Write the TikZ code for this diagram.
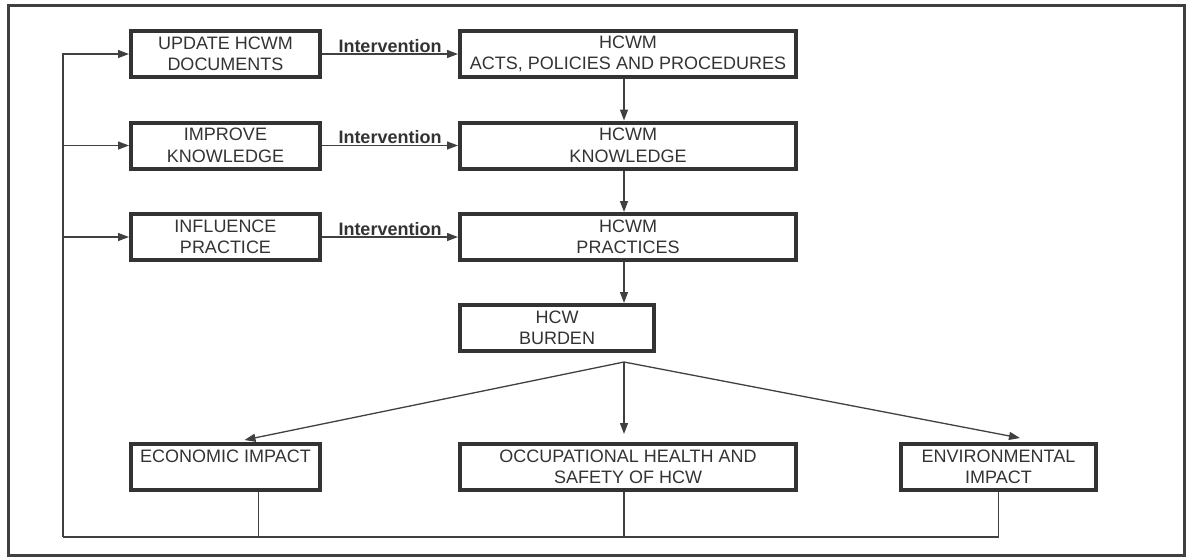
\documentclass[tikz,border=0pt]{standalone}
\usepackage{fontspec}
\setmainfont{Liberation Sans}
\usetikzlibrary{arrows.meta, calc}

\begin{document}
\begin{tikzpicture}[x=1pt, y=-1pt, >={Triangle[length=11pt, width=8pt]},
    box/.style={draw=black!80, line width=4pt, minimum width=189pt, minimum height=46pt,
      inner sep=0pt, align=center, text=black!80, font=\fontsize{18}{21.5}\selectfont},
    widebox/.style={box, minimum width=336pt},
    link/.style={->, draw=black!75, line width=1.3pt},
    wire/.style={draw=black!75, line width=1.1pt}]
    \useasboundingbox (0,0) rectangle (1188,558);
    \draw[black!75, line width=3pt] (8,5) rectangle (1184,555);

    % Interventions
    \node[box] (upd) at (225.5,54) {UPDATE HCWM\\DOCUMENTS};
    \node[box] (imp) at (225.5,145.5) {IMPROVE\\KNOWLEDGE};
    \node[box] (inf) at (225.5,237) {INFLUENCE\\PRACTICE};

    % HCWM chain
    \node[widebox] (acts) at (628,54) {HCWM\\ACTS, POLICIES AND PROCEDURES};
    \node[widebox] (know) at (628,145.5) {HCWM\\KNOWLEDGE};
    \node[widebox] (prac) at (628,237) {HCWM\\PRACTICES};
    \node[box, minimum width=194pt] (burd) at (557,328) {HCW\\BURDEN};

    % Impacts
    \node[box] (econ) at (225.5,467) {ECONOMIC IMPACT\\\mbox{}};
    \node[widebox] (occ) at (628,467) {OCCUPATIONAL HEALTH AND\\SAFETY OF HCW};
    \node[box, minimum width=195pt] (env) at (998.5,467) {ENVIRONMENTAL\\IMPACT};

    \foreach \a/\b in {upd/acts, imp/know, inf/prac}
      \draw[link] (\a) -- (\b) node[midway, above, inner sep=1pt, text=black!80,
        font=\fontsize{18}{20}\selectfont\bfseries] {Intervention};

    \draw[link] ([xshift=-4pt]acts.south) -- ([xshift=-4pt]know.north);
    \draw[link] ([xshift=-4pt]know.south) -- ([xshift=-4pt]prac.north);
    \draw[link] ([xshift=-4pt]prac.south) -- ([xshift=-4pt]prac.south |- burd.north);

    % Burden fans out
    \coordinate (fork) at (624,362);
    \draw[link] (fork) -- ([xshift=19pt, yshift=2pt]econ.north);
    \draw[link] (fork) -- ([yshift=8pt]occ.north -| fork);
    \draw[link] (fork) -- ([xshift=21.5pt, yshift=4pt]env.north);

    % Feedback loop
    \coordinate (loopL) at (63,537);
    \coordinate (loopR) at (env.south |- loopL);
    \draw[wire] ([xshift=33pt]econ.south) -- ([xshift=33pt]econ.south |- loopL);
    \draw[wire] (occ.south -| fork) -- (loopL -| fork);
    \draw[wire] (env.south) -- (loopR) -- (loopL);
    \draw[link] (loopL) |- (upd);
    \draw[link] (imp.west -| loopL) -- (imp);
    \draw[link] (inf.west -| loopL) -- (inf);
\end{tikzpicture}
\end{document}
